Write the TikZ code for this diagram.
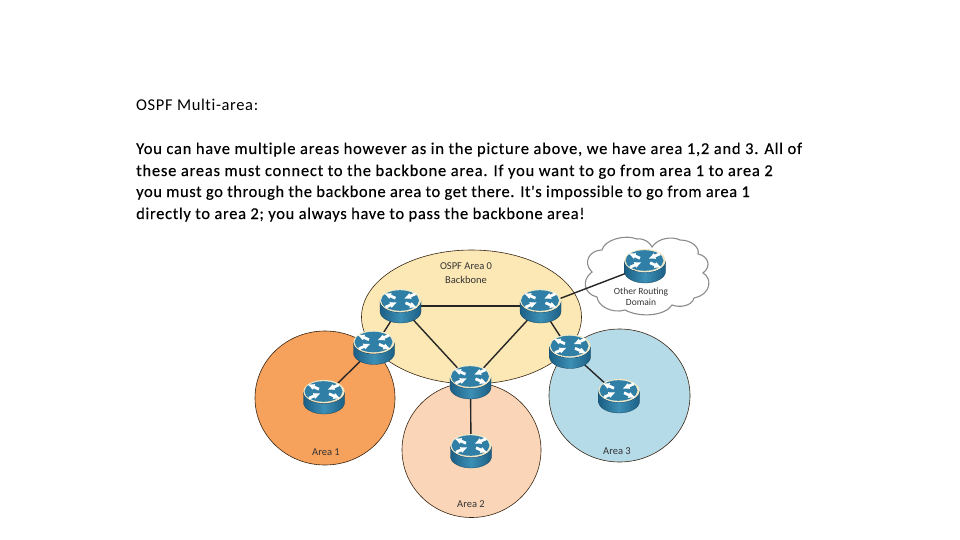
\documentclass[tikz,border=0pt]{standalone}
\usepackage{fontspec}
\setmainfont{Carlito}
\newfontfamily\bodyfont{Carlito}[LetterSpace=4.7,Ligatures=NoCommon,FakeBold=0.25]
\newfontfamily\tightfont{Carlito}[LetterSpace=4.1,Ligatures=NoCommon,FakeBold=0.25]
\newfontfamily\tighterfont{Carlito}[LetterSpace=3.5,Ligatures=NoCommon,FakeBold=0.25]
\newfontfamily\headfont{Carlito}[LetterSpace=3.8,Ligatures=NoCommon]
\definecolor{bbfill}{HTML}{FCE8B4}
\definecolor{aone}{HTML}{F6A15C}
\definecolor{atwo}{HTML}{FAD5B8}
\definecolor{athree}{HTML}{B5DAE8}
\definecolor{rtop}{HTML}{2F7FA6}
\definecolor{rdark}{HTML}{1C5F85}
\definecolor{rlight}{HTML}{3C8FB5}
\definecolor{rim}{HTML}{EFE9C8}
\tikzset{
  x=1pt,y=-1pt,
  area/.style={draw=black!70!brown,line width=.6pt},
  link/.style={draw=black!85,line width=1.4pt},
  spot/.style={inner sep=0pt,minimum size=0pt,shape=coordinate},
  para/.style={anchor=base west,inner sep=0pt,font=\bodyfont\fontsize{16.5}{18}\selectfont},
  paratight/.style={para,font=\tightfont\fontsize{16.5}{18}\selectfont},
  paratighter/.style={para,font=\tighterfont\fontsize{16.5}{18}\selectfont},
  parahead/.style={para,font=\headfont\fontsize{16.5}{18}\selectfont},
  small/.style={inner sep=0pt,font=\fontsize{10.5}{11}\selectfont,text=black!80,align=center},
  smaller/.style={small,font=\fontsize{9.5}{11}\selectfont},
  router/.pic={
    \path[left color=rdark,right color=rdark,middle color=rlight,draw=rdark!70!black,line width=.3pt]
      (-20.5,-5) arc[start angle=180,end angle=360,x radius=20.5,y radius=-11.5] -- (20.5,5.5)
      arc[start angle=0,end angle=180,x radius=20.5,y radius=11.5] -- cycle;
    \fill[rim] (0,-5.5) ellipse[x radius=20.5,y radius=11.5];
    \fill[rtop] (-.5,-5.5) ellipse[x radius=19,y radius=10.3];
    \begin{scope}[shift={(0,-5.5)}]
    \foreach \s/\t in {1/1,-1/-1}{
      \fill[white,xscale=\s,yscale=\t]
        (5.5,1) -- (10.5,3.2) -- (11.1,1.7) -- (16,7) -- (8.9,7.3) -- (9.5,5.8) -- (4.5,3.6) -- cycle;
    }
    \foreach \s/\t in {-1/1,1/-1}{
      \fill[white,xscale=\s,yscale=\t]
        (14.5,8) -- (9.5,5.8) -- (8.9,7.3) -- (4,2) -- (11.1,1.7) -- (10.5,3.2) -- (15.5,5.4) -- cycle;
    }
    \end{scope}
  }
}
\begin{document}
\begin{tikzpicture}
\useasboundingbox (0,0) rectangle (960,540);
\fill[white] (0,0) rectangle (960,540);
% text
\node[parahead] (t0) at (136,110.5) {OSPF Multi-area:};
\node[para] (t1) at (136,154) {You can have multiple areas however as in the picture above, we have area 1,2 and 3. All of};
\node[para] (t2) at (136,176) {these areas must connect to the backbone area. If you want to go from area 1 to area 2};
\node[paratighter] (t3) at (136,197) {you must go through the backbone area to get there. It's impossible to go from area 1};
\node[paratight] (t4) at (136,219) {directly to area 2; you always have to pass the backbone area!};
% areas
\path[area,fill=aone] (325,398) ellipse[x radius=70,y radius=67];
\path[area,fill=atwo] (471.5,450) ellipse[x radius=69.5,y radius=67.5];
\path[area,fill=athree] (619.5,395.5) ellipse[x radius=70.5,y radius=66.5];
\path[area,fill=bbfill] (471.5,317) ellipse[x radius=110,y radius=67];
% cloud
\path[draw=black!45,line width=1.1pt,fill=white]
  (592,272) .. controls (582,262) and (590,250) .. (602,250)
  .. controls (604,240) and (625,234) .. (637,239)
  .. controls (645,238) and (650,243) .. (652,247)
  .. controls (658,238) and (672,236) .. (680,240)
  .. controls (692,240) and (700,248) .. (698,254)
  .. controls (708,256) and (712,266) .. (703,273)
  .. controls (712,278) and (712,294) .. (694,298)
  .. controls (692,306) and (680,308) .. (672,305)
  .. controls (665,316) and (640,318) .. (625,310)
  .. controls (612,314) and (598,306) .. (597,297)
  .. controls (584,294) and (581,280) .. (592,272) -- cycle;
% labels
\node[small] (lb) at (466,273.5) {OSPF Area 0\\[3pt]Backbone};
\node[smaller] (lo) at (641,296.5) {Other Routing\\[0pt]Domain};
\node[small] (l1) at (326,452) {Area 1};
\node[small] (l2) at (471,504) {Area 2};
\node[small] (l3) at (617,451) {Area 3};
% router positions
\node[spot] (r1) at (400.5,306) {};
\node[spot] (r2) at (374,347.5) {};
\node[spot] (r3) at (540.5,306) {};
\node[spot] (r4) at (570,351.5) {};
\node[spot] (r5) at (470.5,382) {};
\node[spot] (r6) at (471,451) {};
\node[spot] (r7) at (645,266) {};
\node[spot] (r8) at (324,397) {};
\node[spot] (r9) at (619,396) {};
% links
\draw[link] (r1) -- (r3);
\draw[link] (r1) -- (r2);
\draw[link] (r1) -- (r5);
\draw[link] (r3) -- (r5);
\draw[link] (r3) -- (r4);
\draw[link] (r3) -- (r7);
\draw[link] (r2) -- (r8);
\draw[link] (r4) -- (r9);
\draw[link] (r5) -- (r6);
% routers
\foreach \r in {r1,r2,r3,r4,r5,r6,r7,r8,r9}{
  \path (\r) pic {router};
}
\end{tikzpicture}
\end{document}
